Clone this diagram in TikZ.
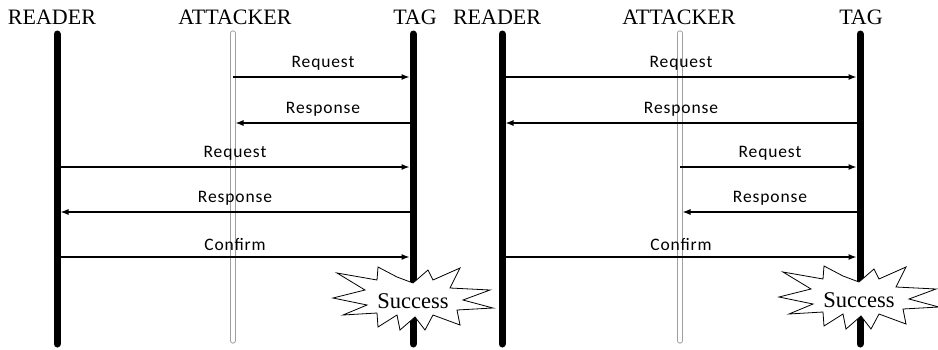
\documentclass[tikz,border=0pt]{standalone}
\usepackage{fontspec}
\setmainfont{Liberation Serif}
\newfontfamily\lblfont[LetterSpace=5]{Carlito}
\usetikzlibrary{arrows.meta,calc}
\tikzset{
  head/.style={font=\fontsize{22}{22}\selectfont, inner sep=0pt},
  life/.style={line width=7pt, line cap=round},
  attline/.style={draw=gray!75, double=white, double distance=3.2pt, line width=1pt, line cap=round},
  msg/.style={line width=1.1pt, -{Latex[length=8pt,width=6pt]}},
  lbl/.style={font=\lblfont\fontsize{17.5}{17.5}\selectfont, inner sep=0pt, above=6pt},
  burst/.style={draw, fill=white, line width=0.8pt},
  succ/.style={font=\fontsize{22.5}{22.5}\selectfont, inner sep=0pt}
}
\begin{document}
\begin{tikzpicture}[x=1pt,y=-1pt]
\useasboundingbox (0,0) rectangle (938,349);
% lifeline coordinates
\coordinate (rdL) at (57,0);
\coordinate (atL) at (233,0);
\coordinate (tgL) at (413,0);
\coordinate (rdR) at (502,0);
\coordinate (atR) at (680,0);
\coordinate (tgR) at (860,0);
\coordinate (top) at (0,34);
\coordinate (bot) at (0,344);
\coordinate (atop) at (0,33);
\coordinate (abot) at (0,341);
\coordinate (r1) at (0,77);
\coordinate (r2) at (0,123);
\coordinate (r3) at (0,167);
\coordinate (r4) at (0,212);
\coordinate (r5) at (0,257);
% headers
\node[head] (hrdL) at (52,17) {READER};
\node[head] (hatL) at (235,17) {ATTACKER};
\node[head] (htgL) at (415,17) {TAG};
\node[head] (hrdR) at (497,17) {READER};
\node[head] (hatR) at (679,17) {ATTACKER};
\node[head] (htgR) at (861,17) {TAG};
% lifelines
\draw[life] (rdL |- top) -- (rdL |- bot);
\draw[life] (tgL |- top) -- (tgL |- bot);
\draw[attline] (atL |- atop) -- (atL |- abot);
\draw[life] (rdR |- top) -- (rdR |- bot);
\draw[life] (tgR |- top) -- (tgR |- bot);
\draw[attline] (atR |- atop) -- (atR |- abot);
% left messages
\draw[msg, shorten >=3.5pt] (atL |- r1) -- node[lbl] {Request} (tgL |- r1);
\draw[msg, shorten >=2.5pt] (tgL |- r2) -- node[lbl] {Response} (atL |- r2);
\draw[msg, shorten >=3.5pt] (rdL |- r3) -- node[lbl] {Request} (tgL |- r3);
\draw[msg, shorten >=3.5pt] (tgL |- r4) -- node[lbl] {Response} (rdL |- r4);
\draw[msg, shorten >=3.5pt] (rdL |- r5) -- node[lbl] {Confirm} (tgL |- r5);
% right messages
\draw[msg, shorten >=3.5pt] (rdR |- r1) -- node[lbl] {Request} (tgR |- r1);
\draw[msg, shorten >=3.5pt] (tgR |- r2) -- node[lbl] {Response} (rdR |- r2);
\draw[msg, shorten >=3.5pt] (atR |- r3) -- node[lbl] {Request} (tgR |- r3);
\draw[msg, shorten >=2.5pt] (tgR |- r4) -- node[lbl] {Response} (atR |- r4);
\draw[msg, shorten >=3.5pt] (rdR |- r5) -- node[lbl] {Confirm} (tgR |- r5);
% bursts
\foreach \cx/\cy/\nm in {413/300/sL, 859/299/sR}{
  \draw[burst, shift={(\cx,\cy)}]
    (-80,-2) -- (-48,-10) -- (-76,-27) -- (-36,-20) -- (-35,-33) -- (-16,-23)
    -- (0,-17) -- (15,-30) -- (20,-20) -- (47,-32) -- (37,-12) -- (77,-10)
    -- (50,0) -- (80,8) -- (44,10) -- (47,25) -- (20,15) -- (12,30) -- (2,17)
    -- (-13,30) -- (-16,15) -- (-35,27) -- (-36,13) -- (-70,15) -- (-46,5) -- cycle;
  \node[succ] (\nm) at (\cx,\cy+1) {Success};
}
\end{tikzpicture}
\end{document}
